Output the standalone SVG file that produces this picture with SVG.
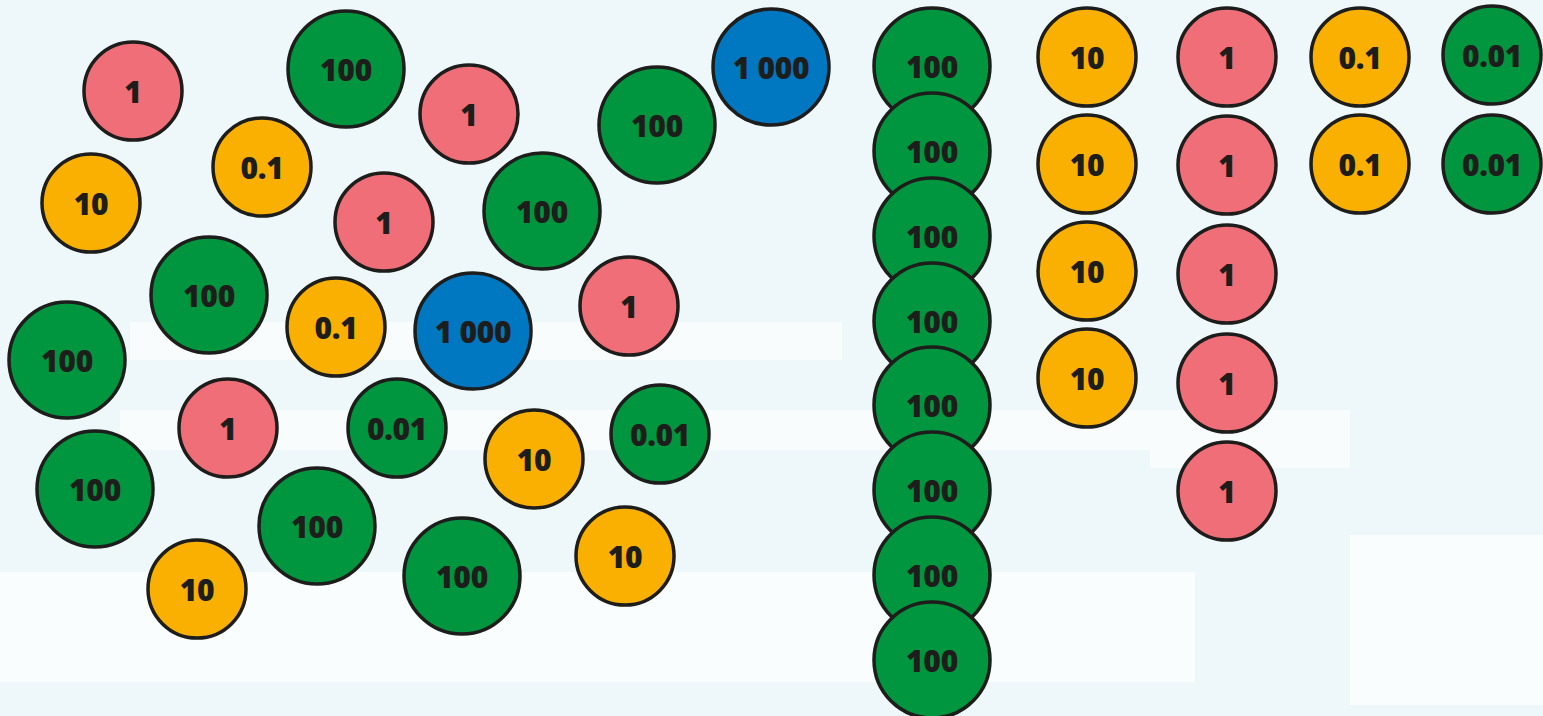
<svg xmlns="http://www.w3.org/2000/svg" width="1543" height="716" viewBox="0 0 1543 716">
<style>
.c{stroke:#1d1d1b;stroke-width:3.5}
.p{fill:#ef6e78}.o{fill:#f9b000}.g{fill:#00953f}.b{fill:#0077c1}
text{font-family:"Open Sans","Liberation Sans",sans-serif;font-weight:800;font-size:30px;fill:#1d1d1b;text-anchor:middle;dominant-baseline:central;letter-spacing:-0.3px}
.bg{fill:#ffffff}
</style>
<rect width="1543" height="716" fill="#eef8fb"/>
<g id="background" opacity="0.7">
<rect class="bg" x="130" y="322" width="712" height="38"/>
<rect class="bg" x="120" y="410" width="1230" height="40"/>
<rect class="bg" x="0" y="572" width="1195" height="110"/>
<rect class="bg" x="1350" y="535" width="193" height="170"/>
<rect class="bg" x="1150" y="428" width="200" height="40"/>
</g>
<g id="connectors"/>
<g id="n1"><circle class="c p" cx="133" cy="91" r="49"/><text x="133" y="91">1</text></g>
<g id="n2"><circle class="c g" cx="346" cy="69" r="58"/><text x="346" y="69">100</text></g>
<g id="n3"><circle class="c p" cx="469" cy="114" r="49"/><text x="469" y="114">1</text></g>
<g id="n4"><circle class="c g" cx="657" cy="125" r="58"/><text x="657" y="125">100</text></g>
<g id="n5"><circle class="c b" cx="771" cy="67" r="58"/><text x="771" y="67">1 000</text></g>
<g id="n6"><circle class="c o" cx="262" cy="167" r="49"/><text x="262" y="167">0.1</text></g>
<g id="n7"><circle class="c o" cx="91" cy="203" r="49"/><text x="91" y="203">10</text></g>
<g id="n8"><circle class="c p" cx="384" cy="222" r="49"/><text x="384" y="222">1</text></g>
<g id="n9"><circle class="c g" cx="542" cy="211" r="58"/><text x="542" y="211">100</text></g>
<g id="n10"><circle class="c g" cx="209" cy="295" r="58"/><text x="209" y="295">100</text></g>
<g id="n11"><circle class="c o" cx="336" cy="327" r="49"/><text x="336" y="327">0.1</text></g>
<g id="n12"><circle class="c b" cx="473" cy="331" r="58"/><text x="473" y="331">1 000</text></g>
<g id="n13"><circle class="c p" cx="629" cy="306" r="49"/><text x="629" y="306">1</text></g>
<g id="n14"><circle class="c g" cx="67" cy="360" r="58"/><text x="67" y="360">100</text></g>
<g id="n15"><circle class="c p" cx="228" cy="428" r="49"/><text x="228" y="428">1</text></g>
<g id="n16"><circle class="c g" cx="397" cy="428" r="49"/><text x="397" y="428">0.01</text></g>
<g id="n17"><circle class="c o" cx="534" cy="459" r="49"/><text x="534" y="459">10</text></g>
<g id="n18"><circle class="c g" cx="660" cy="434" r="49"/><text x="660" y="434">0.01</text></g>
<g id="n19"><circle class="c g" cx="95" cy="489" r="58"/><text x="95" y="489">100</text></g>
<g id="n20"><circle class="c g" cx="317" cy="526" r="58"/><text x="317" y="526">100</text></g>
<g id="n21"><circle class="c o" cx="197" cy="589" r="49"/><text x="197" y="589">10</text></g>
<g id="n22"><circle class="c g" cx="462" cy="576" r="58"/><text x="462" y="576">100</text></g>
<g id="n23"><circle class="c o" cx="625" cy="556" r="49"/><text x="625" y="556">10</text></g>
<g id="s1"><circle class="c g" cx="932" cy="66" r="58"/><text x="932" y="66">100</text></g>
<g id="s2"><circle class="c g" cx="932" cy="151" r="58"/><text x="932" y="151">100</text></g>
<g id="s3"><circle class="c g" cx="932" cy="236" r="58"/><text x="932" y="236">100</text></g>
<g id="s4"><circle class="c g" cx="932" cy="321" r="58"/><text x="932" y="321">100</text></g>
<g id="s5"><circle class="c g" cx="932" cy="405" r="58"/><text x="932" y="405">100</text></g>
<g id="s6"><circle class="c g" cx="932" cy="490" r="58"/><text x="932" y="490">100</text></g>
<g id="s7"><circle class="c g" cx="932" cy="575" r="58"/><text x="932" y="575">100</text></g>
<g id="s8"><circle class="c g" cx="932" cy="660" r="58"/><text x="932" y="660">100</text></g>
<g id="t1"><circle class="c o" cx="1087" cy="57" r="49"/><text x="1087" y="57">10</text></g>
<g id="t2"><circle class="c o" cx="1087" cy="164" r="49"/><text x="1087" y="164">10</text></g>
<g id="t3"><circle class="c o" cx="1087" cy="271" r="49"/><text x="1087" y="271">10</text></g>
<g id="t4"><circle class="c o" cx="1087" cy="378" r="49"/><text x="1087" y="378">10</text></g>
<g id="u1"><circle class="c p" cx="1227" cy="57" r="49"/><text x="1227" y="57">1</text></g>
<g id="u2"><circle class="c p" cx="1227" cy="165" r="49"/><text x="1227" y="165">1</text></g>
<g id="u3"><circle class="c p" cx="1227" cy="274" r="49"/><text x="1227" y="274">1</text></g>
<g id="u4"><circle class="c p" cx="1227" cy="383" r="49"/><text x="1227" y="383">1</text></g>
<g id="u5"><circle class="c p" cx="1227" cy="491" r="49"/><text x="1227" y="491">1</text></g>
<g id="v1"><circle class="c o" cx="1360" cy="57" r="49"/><text x="1360" y="57">0.1</text></g>
<g id="v2"><circle class="c o" cx="1360" cy="164" r="49"/><text x="1360" y="164">0.1</text></g>
<g id="w1"><circle class="c g" cx="1492" cy="55" r="49"/><text x="1492" y="55">0.01</text></g>
<g id="w2"><circle class="c g" cx="1492" cy="164" r="49"/><text x="1492" y="164">0.01</text></g>
</svg>
